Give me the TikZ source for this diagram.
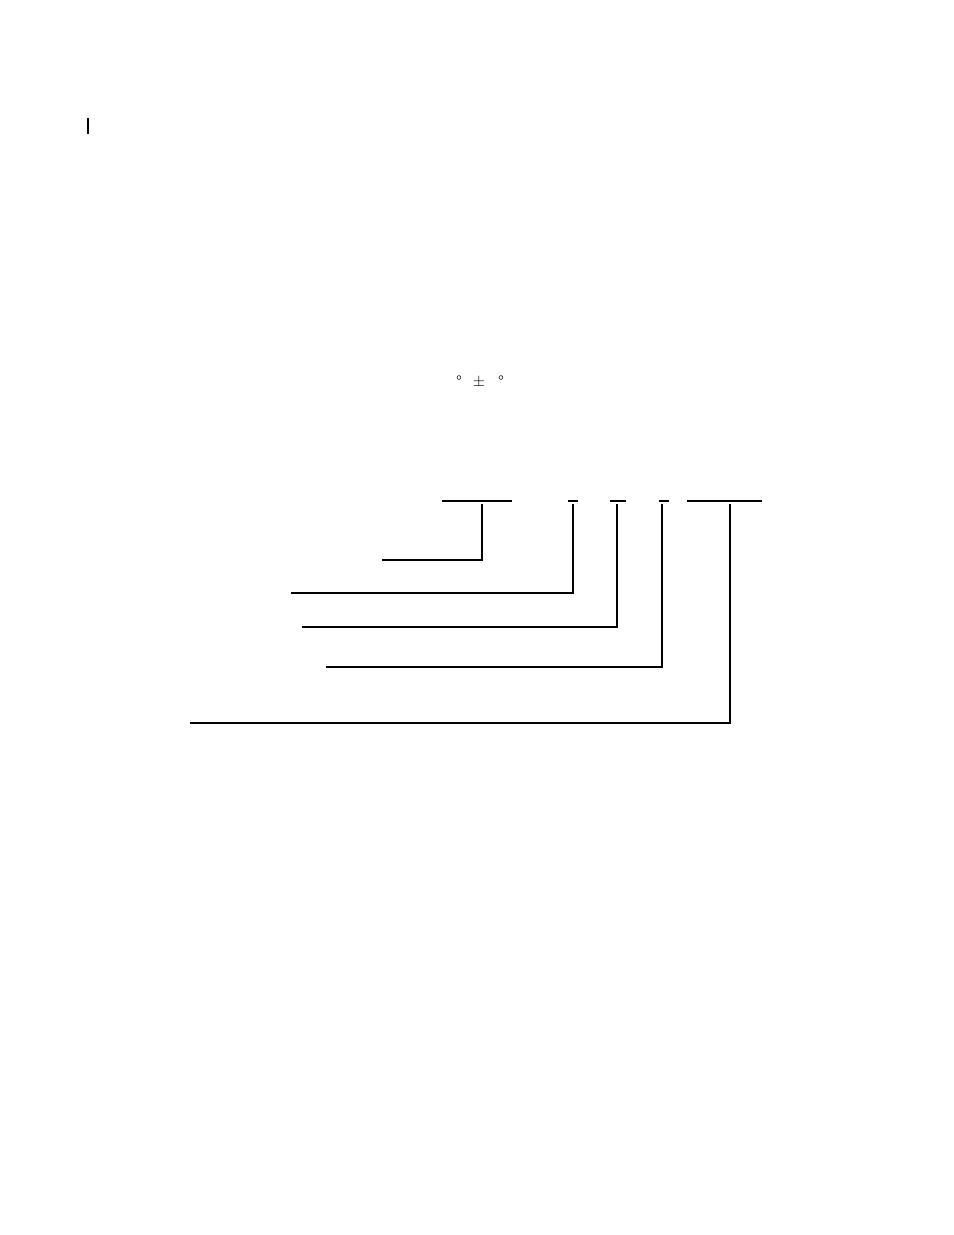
\documentclass[tikz,border=0pt]{standalone}
\usetikzlibrary{positioning}
\tikzstyle{field}=[line width=0.8pt]
\tikzstyle{leader}=[line width=0.7pt]
\tikzstyle{sign}=[anchor=base, inner sep=0pt]

\begin{document}
\begin{tikzpicture}
        [x=0.6415pt, y=-0.6415pt, font=\fontsize{10}{12}\selectfont]
        \useasboundingbox (0,0) rectangle (954,1235);

        % change bar
        \coordinate (bartop) at (88,118);
        \coordinate (barbot) at (88,134);
        \draw[line width=1.7pt] (bartop) -- (barbot);

        % temperature signs
        \node[sign] (lo) at (459,386) {°};
        \node[sign] (pm) at (479,386) {±};
        \node[sign] (hi) at (501,386) {°};

        % fields of the code
        \coordinate (f1w) at (442,501); \coordinate (f1e) at (512,501);
        \coordinate (f2w) at (568,501); \coordinate (f2e) at (578,501);
        \coordinate (f3w) at (610,501); \coordinate (f3e) at (626,501);
        \coordinate (f4w) at (659,501); \coordinate (f4e) at (669,501);
        \coordinate (f5w) at (687,501); \coordinate (f5e) at (762,501);
        \begin{scope}[every path/.style=field]
          \draw (f1w) -- (f1e);
          \draw (f2w) -- (f2e);
          \draw (f3w) -- (f3e);
          \draw (f4w) -- (f4e);
          \draw (f5w) -- (f5e);
        \end{scope}

        % leaders
        \coordinate (t1) at (482,504); \coordinate (e1) at (382,560);
        \coordinate (t2) at (573,504); \coordinate (e2) at (291,593);
        \coordinate (t3) at (617,504); \coordinate (e3) at (302,627);
        \coordinate (t4) at (662,504); \coordinate (e4) at (326,667);
        \coordinate (t5) at (730,504); \coordinate (e5) at (190,723);
        \begin{scope}[every path/.style=leader]
          \draw (t1) |- (e1);
          \draw (t2) |- (e2);
          \draw (t3) |- (e3);
          \draw (t4) |- (e4);
          \draw (t5) |- (e5);
        \end{scope}
      \end{tikzpicture}
\end{document}
